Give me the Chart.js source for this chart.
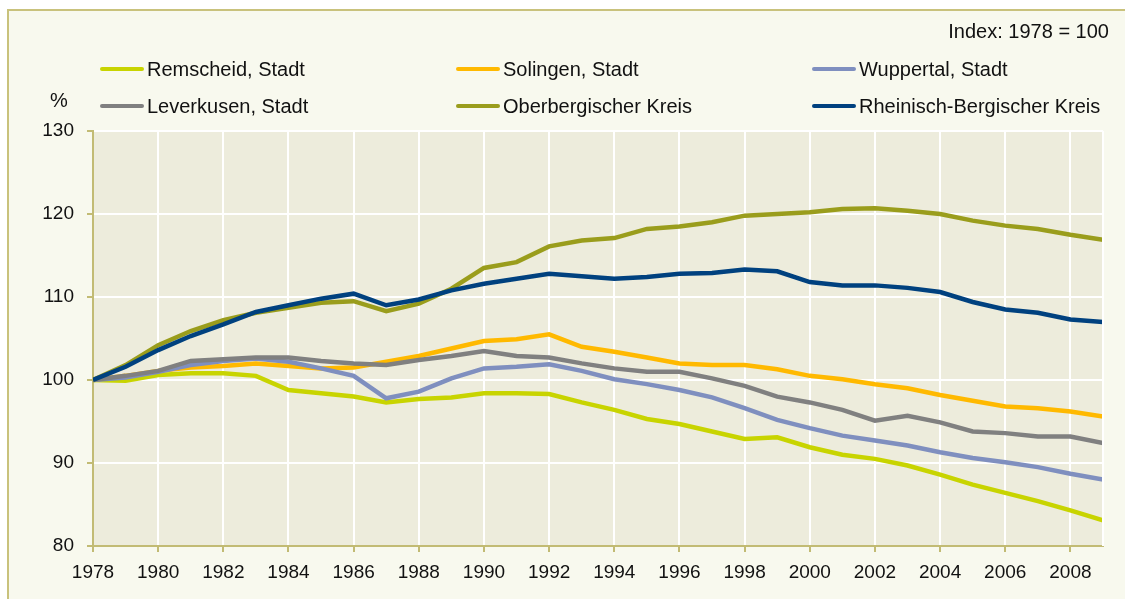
<!DOCTYPE html>
<html lang="de">
<head>
    <meta charset="UTF-8">
    <title>Bevölkerungsentwicklung Bergisches Land</title>
    <script src="https://cdn.jsdelivr.net/npm/chart.js"></script>
    <style>
        body {
            margin: 0;
            background: #ffffff;
            font-family: "Liberation Sans", Arial, sans-serif;
        }
        .wrap {
            position: relative;
            width: 1125px;
            height: 599px;
            overflow: hidden;
        }
        .frame {
            position: absolute;
            left: 7px;
            top: 9px;
            width: 1130px;
            height: 600px;
            background: #f8f9ee;
            border: 2px solid #c9c27c;
        }
        canvas {
            position: absolute;
            left: 0;
            top: 0;
        }
        .note {
            position: absolute;
            font-size: 20px;
            color: #111;
            line-height: 20px;
            white-space: nowrap;
        }
        .legend-item {
            position: absolute;
            height: 24px;
            display: flex;
            align-items: center;
            font-size: 20px;
            color: #111;
            white-space: nowrap;
        }
        .legend-line {
            width: 44px;
            height: 4px;
            border-radius: 2px;
            margin-right: 3px;
        }
    </style>
</head>
<body>
<div class="wrap">
    <div class="frame"></div>
    <canvas id="chart" width="1125" height="599"></canvas>
    <div class="note" style="right: 16px; top: 21px;">Index: 1978 = 100</div>
    <div class="note" style="left: 50px; top: 90px;">%</div>
    <div id="legend"></div>
</div>

<script>
    // Jahre und Indexwerte (1978 = 100)
    const years = [1978, 1979, 1980, 1981, 1982, 1983, 1984, 1985, 1986, 1987, 1988, 1989,
        1990, 1991, 1992, 1993, 1994, 1995, 1996, 1997, 1998, 1999,
        2000, 2001, 2002, 2003, 2004, 2005, 2006, 2007, 2008, 2009];
    const xTicks = [1978, 1980, 1982, 1984, 1986, 1988, 1990, 1992, 1994, 1996, 1998,
        2000, 2002, 2004, 2006, 2008];
    const yTicks = [80, 90, 100, 110, 120, 130];

    const seriesNames = ['Remscheid, Stadt', 'Solingen, Stadt', 'Wuppertal, Stadt',
        'Leverkusen,  Stadt', 'Oberbergischer Kreis', 'Rheinisch-Bergischer Kreis'];
    const seriesColors = ['#c8d400', '#ffb900', '#7f8fbf', '#808080', '#9a9d1c', '#00417f'];

    const remscheid = [100, 99.9, 100.6, 100.8, 100.8, 100.5, 98.8, 98.4, 98.0, 97.3, 97.7, 97.9,
        98.4, 98.4, 98.3, 97.3, 96.4, 95.3, 94.7, 93.8, 92.9, 93.1,
        91.9, 91.0, 90.5, 89.7, 88.6, 87.4, 86.4, 85.4, 84.3, 83.1];
    const solingen = [100, 100.5, 101.1, 101.5, 101.7, 102.0, 101.7, 101.4, 101.5, 102.2, 102.9, 103.8,
        104.7, 104.9, 105.5, 104.0, 103.4, 102.7, 102.0, 101.8, 101.8, 101.3,
        100.5, 100.1, 99.5, 99.0, 98.2, 97.5, 96.8, 96.6, 96.2, 95.6];
    const wuppertal = [100, 100.3, 101.0, 101.8, 102.3, 102.6, 102.2, 101.4, 100.5, 97.8, 98.6, 100.2,
        101.4, 101.6, 101.9, 101.1, 100.1, 99.5, 98.8, 97.9, 96.6, 95.2,
        94.2, 93.3, 92.7, 92.1, 91.3, 90.6, 90.1, 89.5, 88.7, 88.0];
    const leverkusen = [100, 100.5, 101.1, 102.3, 102.5, 102.7, 102.7, 102.3, 102.0, 101.8, 102.4, 102.9,
        103.5, 102.9, 102.7, 102.0, 101.4, 101.0, 101.0, 100.2, 99.3, 98.0,
        97.3, 96.4, 95.1, 95.7, 94.9, 93.8, 93.6, 93.2, 93.2, 92.4];
    const oberberg = [100, 101.8, 104.2, 105.9, 107.2, 108.1, 108.7, 109.3, 109.5, 108.3, 109.2, 111.0,
        113.5, 114.2, 116.1, 116.8, 117.1, 118.2, 118.5, 119.0, 119.8, 120.0,
        120.2, 120.6, 120.7, 120.4, 120.0, 119.2, 118.6, 118.2, 117.5, 116.9];
    const rheinBerg = [100, 101.6, 103.6, 105.3, 106.7, 108.2, 109.0, 109.8, 110.4, 109.0, 109.7, 110.8,
        111.6, 112.2, 112.8, 112.5, 112.2, 112.4, 112.8, 112.9, 113.3, 113.1,
        111.8, 111.4, 111.4, 111.1, 110.6, 109.4, 108.5, 108.1, 107.3, 107.0];

    const seriesValues = [remscheid, solingen, wuppertal, leverkusen, oberberg, rheinBerg];

    // legend (3 columns x 2 rows)
    const legendX = [100, 456, 812];
    const legendY = [57, 94];
    const legendEl = document.getElementById('legend');
    seriesNames.forEach((name, i) => {
        const item = document.createElement('div');
        item.className = 'legend-item';
        item.style.left = legendX[i % 3] + 'px';
        item.style.top = legendY[Math.floor(i / 3)] + 'px';
        item.innerHTML = '<div class="legend-line" style="background:' + seriesColors[i] + '"></div>' + name;
        legendEl.appendChild(item);
    });

    const plotBackground = {
        id: 'plotBackground',
        beforeDraw(chart) {
            const { ctx, chartArea: a } = chart;
            ctx.save();
            ctx.fillStyle = '#edecdc';
            ctx.fillRect(a.left, a.top, a.right - a.left, a.bottom - a.top);
            ctx.restore();
        },
        afterDatasetsDraw(chart) {
            const { ctx, chartArea: a } = chart;
            ctx.save();
            ctx.strokeStyle = '#ffffff';
            ctx.lineWidth = 2;
            ctx.beginPath();
            ctx.moveTo(a.right, a.top);
            ctx.lineTo(a.right, a.bottom);
            ctx.stroke();
            ctx.restore();
        }
    };

    const ctx = document.getElementById('chart').getContext('2d');
    new Chart(ctx, {
        type: 'line',
        data: {
            datasets: seriesValues.map((vals, i) => ({
                label: seriesNames[i],
                data: vals.map((v, j) => ({ x: years[j], y: v })),
                borderColor: seriesColors[i],
                backgroundColor: seriesColors[i],
                borderWidth: 4.5,
                pointRadius: 0,
                tension: 0,
                order: seriesValues.length - i
            }))
        },
        options: {
            responsive: false,
            animation: false,
            devicePixelRatio: 1,
            layout: { padding: { left: 0, top: 131, right: 22, bottom: 0 } },
            plugins: {
                legend: { display: false },
                tooltip: { enabled: false }
            },
            scales: {
                x: {
                    type: 'linear',
                    min: 1978,
                    max: 2009,
                    afterBuildTicks: s => { s.ticks = xTicks.map(v => ({ value: v })); },
                    afterFit: s => { s.height = 53; },
                    grid: {
                        color: '#ffffff',
                        lineWidth: 2,
                        tickColor: '#c2bb74',
                        tickLength: 6,
                        tickWidth: 2
                    },
                    border: { color: '#c2bb74', width: 2 },
                    ticks: {
                        color: '#111',
                        font: { family: 'Liberation Sans', size: 19 },
                        padding: 9,
                        maxRotation: 0,
                        callback: v => String(v)
                    }
                },
                y: {
                    min: 80,
                    max: 130,
                    afterBuildTicks: s => { s.ticks = yTicks.map(v => ({ value: v })); },
                    afterFit: s => { s.width = 93; },
                    grid: {
                        color: '#ffffff',
                        lineWidth: 2,
                        tickColor: '#c2bb74',
                        tickLength: 6,
                        tickWidth: 2
                    },
                    border: { color: '#c2bb74', width: 2 },
                    ticks: {
                        color: '#111',
                        font: { family: 'Liberation Sans', size: 19 },
                        padding: 13
                    }
                }
            }
        },
        plugins: [plotBackground]
    });
</script>
</body>
</html>
